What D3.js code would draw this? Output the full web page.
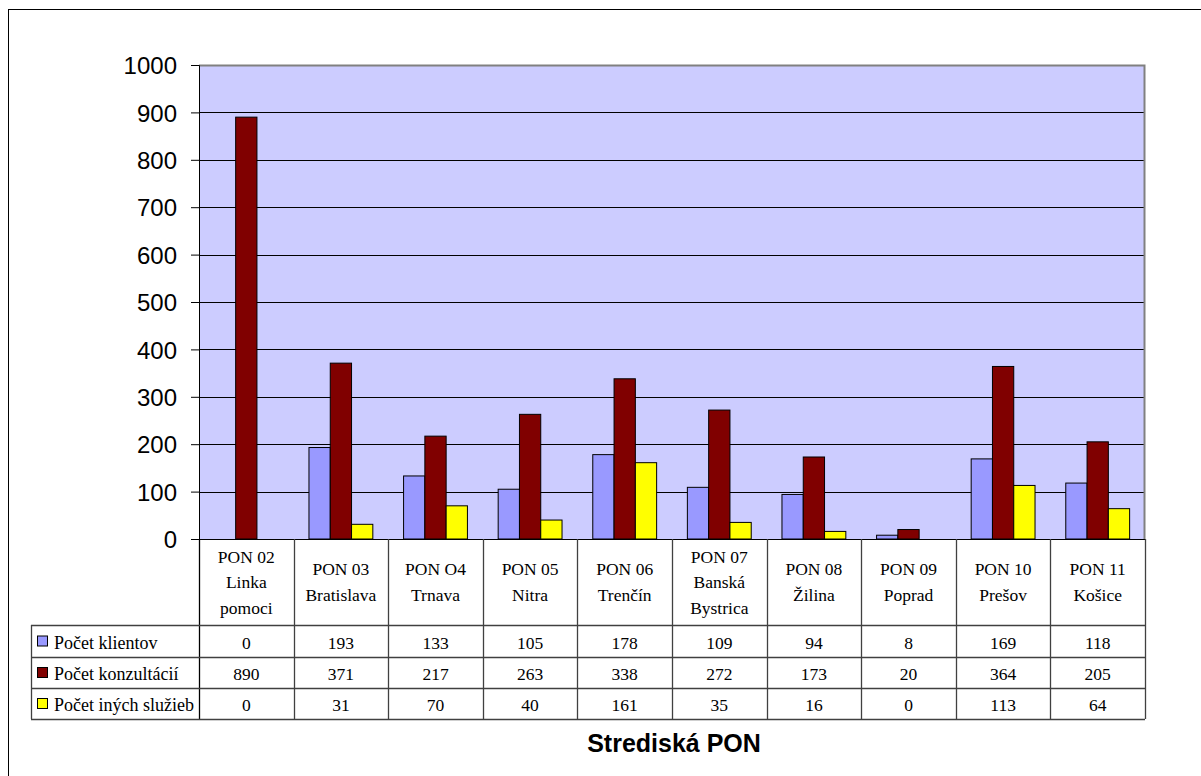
<!DOCTYPE html>
<html>
<head>
<meta charset="utf-8">
<script src="https://cdn.jsdelivr.net/npm/d3@7"></script>
<style>
  html, body { margin: 0; padding: 0; background: #fff; }
  svg { display: block; }
</style>
</head>
<body>
<svg id="chart" width="1201" height="776"></svg>
<script>
// ---- data ----
const categories = [
  ["PON 02", "Linka", "pomoci"],
  ["PON 03", "Bratislava"],
  ["PON O4", "Trnava"],
  ["PON 05", "Nitra"],
  ["PON 06", "Trenčín"],
  ["PON 07", "Banská", "Bystrica"],
  ["PON 08", "Žilina"],
  ["PON 09", "Poprad"],
  ["PON 10", "Prešov"],
  ["PON 11", "Košice"]
];
const seriesNames = ["Počet klientov", "Počet konzultácií", "Počet iných služieb"];
const klientov    = [0, 193, 133, 105, 178, 109, 94, 8, 169, 118];
const konzultacii = [890, 371, 217, 263, 338, 272, 173, 20, 364, 205];
const inychSluzieb = [0, 31, 70, 40, 161, 35, 16, 0, 113, 64];
const seriesValues = [klientov, konzultacii, inychSluzieb];
const seriesColors = ["#9999FF", "#800000", "#FFFF00"];
const yTicks = [0, 100, 200, 300, 400, 500, 600, 700, 800, 900, 1000];
const xTitle = "Strediská PON";

// ---- layout ----
const svg = d3.select("#chart");
const plot = { left: 199, right: 1145, top: 65, bottom: 539 };
const table = { headerBottom: 625, rows: [625, 657, 688, 719], legendLeft: 31 };

// outer chart border (only top/left visible in frame)
svg.append("rect")
  .attr("x", 8.5).attr("y", 9.5).attr("width", 1300).attr("height", 900)
  .attr("fill", "none").attr("stroke", "#000").attr("stroke-width", 1);

const catIdx = categories.map((d, i) => i);
const x = d3.scaleBand().domain(catIdx).range([plot.left, plot.right]).padding(0);
const y = d3.scaleLinear().domain([0, 1000]).range([plot.bottom, plot.top]);
const barW = x.bandwidth() * 0.225;
const x1 = d3.scaleBand().domain([0, 1, 2]).range([0, barW * 3]).padding(0);
const groupOffset = (x.bandwidth() - barW * 3) / 2;

// plot background
svg.append("rect")
  .attr("x", plot.left).attr("y", plot.top)
  .attr("width", plot.right - plot.left).attr("height", plot.bottom - plot.top)
  .attr("fill", "#CCCCFF");

// gridlines
svg.append("g").selectAll("line").data(yTicks.filter(t => t > 0 && t < 1000)).join("line")
  .attr("x1", plot.left).attr("x2", plot.right)
  .attr("y1", d => Math.round(y(d)) + 0.5).attr("y2", d => Math.round(y(d)) + 0.5)
  .attr("stroke", "#000").attr("stroke-width", 1);

// plot border top/right (grey)
svg.append("path")
  .attr("d", `M${plot.left},${plot.top + 0.5} H${plot.right - 0.5} V${plot.bottom}`)
  .attr("fill", "none").attr("stroke", "#808080").attr("stroke-width", 2);

// bars
const barData = [];
seriesValues.forEach((vals, s) => vals.forEach((v, i) => barData.push({ s, i, v })));
svg.append("g").selectAll("rect").data(barData.filter(d => d.v > 0)).join("rect")
  .attr("x", d => x(d.i) + groupOffset + x1(d.s))
  .attr("y", d => y(d.v))
  .attr("width", x1.bandwidth())
  .attr("height", d => y(0) - y(d.v))
  .attr("fill", d => seriesColors[d.s])
  .attr("stroke", "#000").attr("stroke-width", 1);

// y axis
const yAxis = d3.axisLeft(y).tickValues(yTicks).tickSize(8).tickPadding(14).tickFormat(d3.format("d"));
const gy = svg.append("g").attr("transform", `translate(${plot.left},0)`).call(yAxis);
gy.select(".domain").attr("stroke", "#000");
gy.selectAll(".tick line").attr("stroke", "#000");
gy.selectAll(".tick text")
  .attr("font-family", "'Liberation Sans', Arial, sans-serif")
  .attr("font-size", 24).attr("fill", "#000").attr("dy", "0.36em");

// x axis line
svg.append("line")
  .attr("x1", plot.left).attr("x2", plot.right)
  .attr("y1", plot.bottom + 0.5).attr("y2", plot.bottom + 0.5)
  .attr("stroke", "#000").attr("stroke-width", 1);

// ---- data table ----
const tableColor = "#404040";
const tg = svg.append("g");
const bounds = catIdx.map(i => x(i)).concat([plot.right]);
tg.selectAll("line.v").data(bounds).join("line")
  .attr("x1", d => Math.round(d) + 0.5).attr("x2", d => Math.round(d) + 0.5)
  .attr("y1", plot.bottom).attr("y2", table.rows[3])
  .attr("stroke", (d, i) => i === 0 ? "#000" : tableColor).attr("stroke-width", 1.3);
tg.append("line")
  .attr("x1", table.legendLeft + 0.5).attr("x2", table.legendLeft + 0.5)
  .attr("y1", table.rows[0]).attr("y2", table.rows[3])
  .attr("stroke", tableColor).attr("stroke-width", 1.3);
tg.selectAll("line.h").data(table.rows).join("line")
  .attr("x1", table.legendLeft).attr("x2", plot.right)
  .attr("y1", d => d + 0.5).attr("y2", d => d + 0.5)
  .attr("stroke", tableColor).attr("stroke-width", 1.3);

const serif = "'Liberation Serif', 'Times New Roman', 'DejaVu Serif', serif";
const headerCenter = (plot.bottom + table.headerBottom) / 2;
const lineH = 25.5;
categories.forEach((lines, i) => {
  const cx = x(i) + x.bandwidth() / 2;
  const first = headerCenter + 6 - (lines.length - 1) * lineH / 2;
  tg.append("text")
    .attr("x", cx).attr("text-anchor", "middle")
    .style("font-family", serif).attr("font-size", 17.5).attr("fill", "#000")
    .selectAll("tspan").data(lines).join("tspan")
    .attr("x", cx).attr("y", (d, k) => first + k * lineH)
    .text(d => d);
});

seriesValues.forEach((vals, s) => {
  const top = table.rows[s], bot = table.rows[s + 1];
  const base = (top + bot) / 2 + 7.5;
  tg.selectAll(null).data(vals).join("text")
    .attr("x", (d, i) => x(i) + x.bandwidth() / 2)
    .attr("y", base)
    .attr("text-anchor", "middle")
    .style("font-family", serif).attr("font-size", 17.5).attr("fill", "#000")
    .text(d => d);
  tg.append("rect")
    .attr("x", 37.5).attr("y", (top + bot) / 2 - 5)
    .attr("width", 10).attr("height", 10)
    .attr("fill", seriesColors[s]).attr("stroke", "#000").attr("stroke-width", 1);
  tg.append("text")
    .attr("x", 54).attr("y", base)
    .style("font-family", serif).attr("font-size", 18).attr("fill", "#000")
    .text(seriesNames[s]);
});

svg.append("text")
  .attr("x", (plot.left + plot.right) / 2 + 2).attr("y", 752)
  .attr("text-anchor", "middle")
  .attr("font-family", "'Liberation Sans', Arial, sans-serif")
  .attr("font-weight", "bold").attr("font-size", 25).attr("fill", "#000")
  .text(xTitle);
</script>
</body>
</html>
